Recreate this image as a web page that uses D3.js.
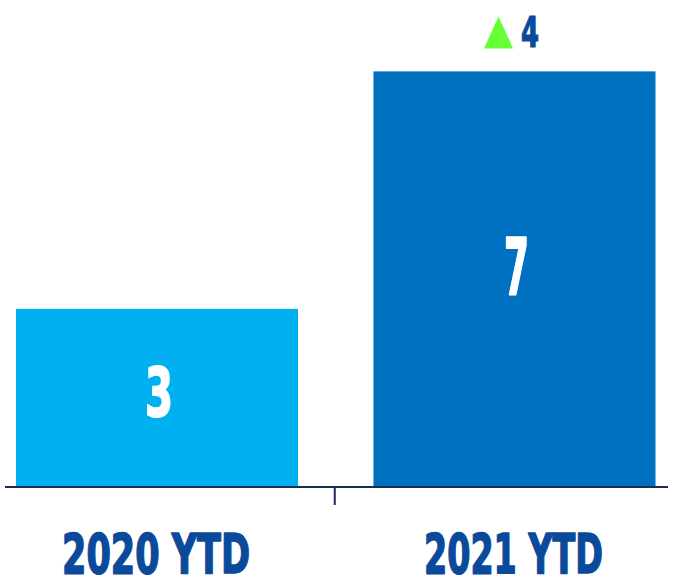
<!DOCTYPE html>
<html>
<head>
<meta charset="utf-8">
<script src="https://cdn.jsdelivr.net/npm/d3@7"></script>
<style>
  html, body { margin: 0; padding: 0; background: #ffffff; }
  svg { display: block; }
</style>
</head>
<body>
<svg id="chart" width="675" height="587"></svg>
<script>
// ---- data ----
const categories = ["2020 YTD", "2021 YTD"];
const values = [3, 7];
const yDomain = [0, 8];

// ---- styles ----
const barColors = ["#00B0F0", "#0070C0"];
const textColor = "#0B4A9B";
const axisColor = "#1C2B55";
const font = "'DejaVu Sans Condensed','Liberation Sans Narrow','Liberation Sans',sans-serif";

const svg = d3.select("#chart");

const x = d3.scaleBand().domain(categories).range([16, 655.5]).paddingInner(0.211).paddingOuter(0);
const y = d3.scaleLinear().domain(yDomain).range([487, 12]);

// helper: squeeze a text horizontally to a target width (condensed look)
function squeeze(sel, cx, cy, targetW, anchor) {
  sel.each(function(d, i) {
    const node = this;
    const w = node.getComputedTextLength();
    const tw = typeof targetW === "function" ? targetW(d, i) : targetW;
    const sx = tw / w;
    const px = typeof cx === "function" ? cx(d, i) : cx;
    const py = typeof cy === "function" ? cy(d, i) : cy;
    d3.select(node).attr("transform", `translate(${px},${py}) scale(${sx},1)`);
  });
}

// bars
svg.selectAll("rect.bar").data(values).join("rect")
  .attr("class", "bar")
  .attr("x", (d, i) => x(categories[i]))
  .attr("width", x.bandwidth())
  .attr("y", d => y(d))
  .attr("height", d => y(0) - y(d))
  .attr("fill", (d, i) => barColors[i]);

// axis line
svg.append("line")
  .attr("x1", 5).attr("x2", 668)
  .attr("y1", y(0)).attr("y2", y(0))
  .attr("stroke", axisColor).attr("stroke-width", 2);
// middle tick
const midX = (x(categories[0]) + x.bandwidth() + x(categories[1])) / 2 - 1;
svg.append("line")
  .attr("x1", midX).attr("x2", midX)
  .attr("y1", y(0)).attr("y2", y(0) + 18)
  .attr("stroke", axisColor).attr("stroke-width", 2);

// category labels
const catWidths = [188, 179];
svg.selectAll("text.cat").data(categories).join("text")
  .attr("class", "cat")
  .attr("text-anchor", "middle")
  .attr("font-family", font)
  .attr("font-weight", "bold")
  .attr("font-size", 55)
  .attr("fill", textColor)
  .attr("stroke", textColor)
  .attr("stroke-width", 1.6)
  .attr("stroke-linejoin", "round")
  .text(d => d)
  .call(squeeze, d => x(d) + x.bandwidth() / 2 - 1, 573, (d, i) => catWidths[i]);

// value labels inside bars
const valSizes = [68, 78];
const valWidths = [28, 25];
const valBase = [416, 294];
svg.selectAll("text.val").data(values).join("text")
  .attr("class", "val")
  .attr("text-anchor", "middle")
  .attr("font-family", font)
  .attr("font-weight", "bold")
  .attr("font-size", (d, i) => valSizes[i])
  .attr("fill", "#ffffff")
  .attr("stroke", "#ffffff")
  .attr("stroke-width", 2)
  .attr("stroke-linejoin", "round")
  .text(d => d)
  .call(squeeze, (d, i) => x(categories[i]) + x.bandwidth() / 2 + 2, (d, i) => valBase[i], (d, i) => valWidths[i]);

// change indicator
const delta = values[1] - values[0];
const topY = y(values[1]);
const tx = 498.5, baseY = topY - 23;
svg.append("path")
  .attr("d", `M${tx - 14.5},${baseY} L${tx + 14.5},${baseY} L${tx},${baseY - 32} Z`)
  .attr("fill", "#66FF33");
svg.append("text")
  .attr("text-anchor", "start")
  .attr("font-family", font)
  .attr("font-weight", "bold")
  .attr("font-size", 42)
  .attr("fill", textColor)
  .attr("stroke", textColor)
  .attr("stroke-width", 1.2)
  .attr("stroke-linejoin", "round")
  .text(delta)
  .call(squeeze, 521, baseY - 1, 18);
</script>
</body>
</html>
